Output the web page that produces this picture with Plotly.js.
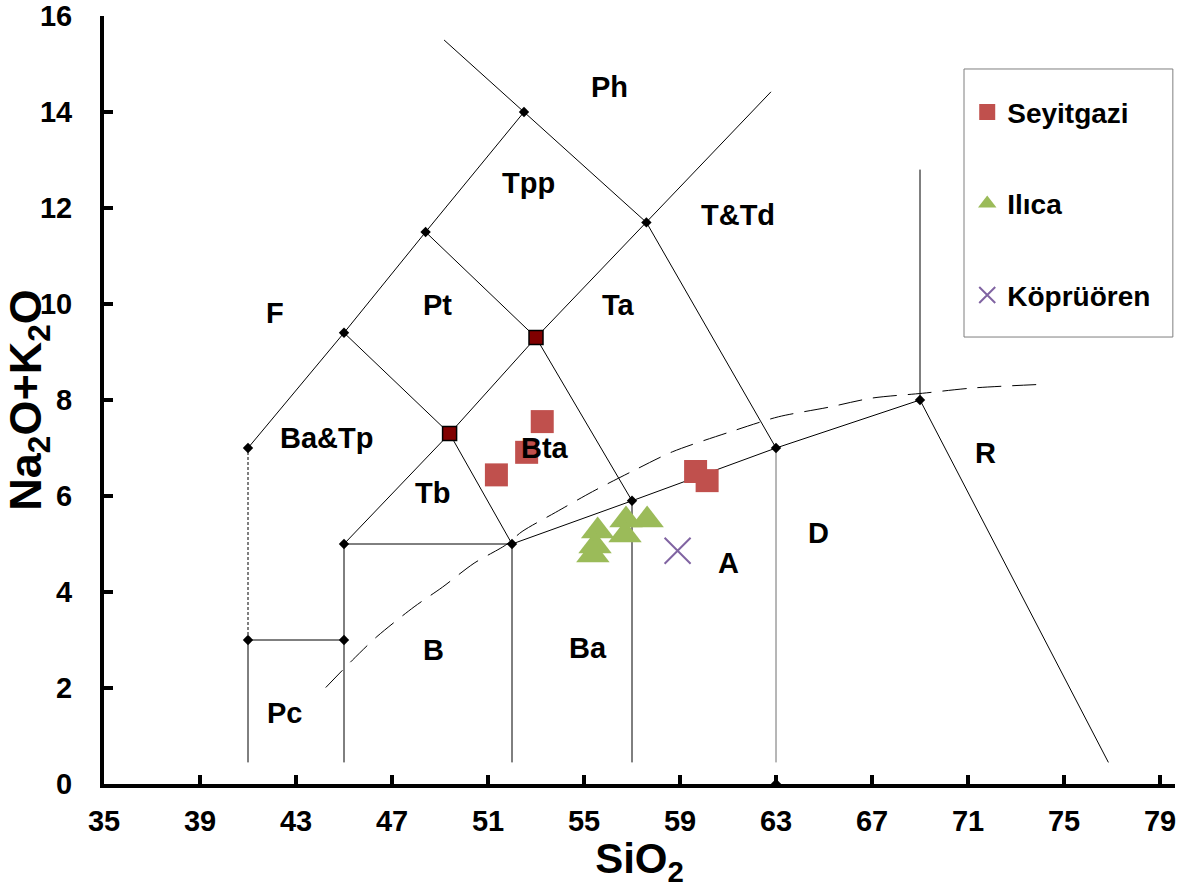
<!DOCTYPE html>
<html><head><meta charset="utf-8">
<script src="https://cdn.plot.ly/plotly-3.0.1.min.js"></script>
<style>html,body{margin:0;padding:0;background:#fff;} #chart{width:1197px;height:888px;}</style>
</head><body><div id="chart"></div>
<script>
// ---- sample data (SiO2 wt%, Na2O+K2O wt%) ----
const seyitgaziSiO2 = [53.26, 52.61, 51.35, 59.65, 60.13];
const seyitgaziAlk  = [7.55, 6.91, 6.44, 6.51, 6.32];
const ilicaSiO2 = [55.57, 55.46, 55.37, 56.75, 56.71, 57.63];
const ilicaAlk  = [5.27, 4.96, 4.77, 5.50, 5.19, 5.50];
const kopruorenSiO2 = [58.9];
const kopruorenAlk  = [4.86];

// ---- TAS field boundaries (polylines) ----
const boundaryX = [
  [41, 41], [41, 45], [45, 45], [45, 52], [52, 52], [57, 57],
  [52, 57, 63, 69], [69, 69], [69, 76.85],
  [41, 45, 48.4, 52.5, 57.6, 63], [52.5, 49.17],
  [45, 49.4, 52], [48.4, 53, 57], [45, 49.4, 53, 57.6, 62.79]
];
const boundaryY = [
  [0.45, 3], [3, 3], [0.45, 5], [5, 5], [0.45, 5], [0.45, 5.9],
  [5, 5.9, 7, 8], [8, 12.8], [8, 0.45],
  [7, 9.4, 11.5, 14, 11.7, 7], [14, 15.5],
  [9.4, 7.3, 5], [11.5, 9.3, 5.9], [5, 7.3, 9.3, 11.7, 14.42]
];
const greyLineX = [63, 63];
const greyLineY = [0.45, 7];
const dottedLineX = [41, 41];
const dottedLineY = [3, 7];
const vertexX = [41, 41, 45, 45, 45, 48.4, 52.5, 57.6, 52, 57, 63, 69, 63];
const vertexY = [7, 3, 3, 5, 9.4, 11.5, 14, 11.7, 5, 5.9, 7, 8, 0];
const keyVertexX = [49.4, 53];
const keyVertexY = [7.3, 9.3];
// alkaline / subalkaline divide (dashed curve)
const alkCurveX = [44.24, 45.35, 46.37, 47.92, 49.1, 50.42, 51.74, 52.42, 53.82, 55.35, 57.15, 58.68, 61.33, 63.1, 65.2, 67.0, 69.1, 71.2, 74.25];
const alkCurveY = [2.01, 2.58, 3.07, 3.69, 4.1, 4.6, 4.98, 5.26, 5.66, 6.09, 6.55, 6.92, 7.375, 7.65, 7.85, 8.04, 8.14, 8.25, 8.33];

// ---- field names ----
const fieldNames = ['Ph', 'Tpp', 'T&Td', 'F', 'Pt', 'Ta', 'Ba&Tp', 'Bta', 'Tb', 'R', 'D', 'A', 'B', 'Ba', 'Pc'];
const fieldX = [56.08, 52.67, 61.42, 42.12, 48.88, 56.42, 44.29, 53.37, 48.67, 71.71, 64.75, 61.0, 48.71, 55.17, 42.54];
const fieldY = [14.52, 12.52, 11.85, 9.81, 9.98, 9.98, 7.21, 7.0, 6.06, 6.9, 5.23, 4.6, 2.79, 2.83, 1.48];

const xTicks = [35, 39, 43, 47, 51, 55, 59, 63, 67, 71, 75, 79];
const yTicks = [0, 2, 4, 6, 8, 10, 12, 14, 16];

const FONT = 'Arial, "Liberation Sans", sans-serif';
const traces = [];
boundaryX.forEach((bx, i) => {
  traces.push({x: bx, y: boundaryY[i], mode: 'lines', type: 'scatter', showlegend: false, hoverinfo: 'skip',
    line: {color: '#000', width: 1}});
});
traces.push({x: greyLineX, y: greyLineY, mode: 'lines', type: 'scatter', showlegend: false, hoverinfo: 'skip',
  line: {color: '#6e6e6e', width: 1}});
traces.push({x: dottedLineX, y: dottedLineY, mode: 'lines', type: 'scatter', showlegend: false, hoverinfo: 'skip',
  line: {color: '#000', width: 1, dash: '3px,2px'}});
traces.push({x: alkCurveX, y: alkCurveY, mode: 'lines', type: 'scatter', showlegend: false, hoverinfo: 'skip',
  line: {color: '#000', width: 1, dash: '24px,11px', shape: 'spline', smoothing: 0.8}});
traces.push({x: vertexX, y: vertexY, mode: 'markers', type: 'scatter', showlegend: false, hoverinfo: 'skip',
  marker: {symbol: 'diamond', size: 8, color: '#000'}});
traces.push({x: keyVertexX, y: keyVertexY, mode: 'markers', type: 'scatter', showlegend: false, hoverinfo: 'skip',
  marker: {symbol: 'square', size: 14, color: '#800000', line: {color: '#000', width: 1.5}}});

traces.push({x: seyitgaziSiO2, y: seyitgaziAlk, name: 'Seyitgazi', mode: 'markers', type: 'scatter', legendgroup: 'a',
  marker: {symbol: 'square', size: 23, color: '#C0504D'}});
traces.push({x: ilicaSiO2, y: ilicaAlk, name: 'Ilıca', mode: 'markers', type: 'scatter', legendgroup: 'b',
  marker: {symbol: 'triangle-up', size: 29, color: '#9BBB59'}});
traces.push({x: kopruorenSiO2, y: kopruorenAlk, name: 'Köprüören', mode: 'markers', type: 'scatter', legendgroup: 'c',
  marker: {symbol: 'x-thin', size: 26, color: '#8064A2', line: {color: '#8064A2', width: 2}}});

const annotations = fieldNames.map((n, i) => ({
  x: fieldX[i], y: fieldY[i], xref: 'x', yref: 'y', text: n, showarrow: false,
  font: {family: FONT, size: 29, color: '#000', weight: 'bold'}
}));

const layout = {
  width: 1197, height: 888,
  margin: {l: 104, r: 22, t: 16, b: 104},
  paper_bgcolor: '#fff', plot_bgcolor: '#fff',
  showlegend: true,
  legend: {x: 0.806, y: 0.907, xanchor: 'left', yanchor: 'top', bgcolor: 'rgba(0,0,0,0)', borderwidth: 0,
    tracegroupgap: 52, font: {family: FONT, size: 28, color: '#000', weight: 'bold'}},
  xaxis: {range: [35, 79.625], tickmode: 'array', tickvals: xTicks, ticktext: xTicks.map(String),
    showgrid: false, zeroline: false, showline: true, linecolor: '#000', linewidth: 4,
    ticks: 'inside', ticklen: 9, tickwidth: 4, tickcolor: '#000', ticklabelstandoff: 8,
    tickfont: {family: FONT, size: 29, color: '#000', weight: 'bold'},
    title: {text: 'SiO<sub>2</sub>', standoff: 2, font: {family: FONT, size: 42, color: '#000', weight: 'bold'}}},
  yaxis: {range: [0, 16], tickmode: 'array', tickvals: yTicks, ticktext: yTicks.map(String),
    showgrid: false, zeroline: false, showline: true, linecolor: '#000', linewidth: 4,
    ticks: 'inside', ticklen: 9, tickwidth: 4, tickcolor: '#000', ticklabelstandoff: 22,
    tickfont: {family: FONT, size: 29, color: '#000', weight: 'bold'},
    title: {text: 'Na<sub>2</sub>O+K<sub>2</sub>O', standoff: 0, font: {family: FONT, size: 45, color: '#000', weight: 'bold'}}},
  shapes: [{type: 'rect', xref: 'paper', yref: 'paper', x0: 0.803, x1: 0.998, y0: 0.582, y1: 0.931,
    line: {color: '#7f7f7f', width: 1}, fillcolor: 'rgba(0,0,0,0)', layer: 'below'}],
  annotations: annotations
};

Plotly.newPlot('chart', traces, layout, {displayModeBar: false, staticPlot: true});
</script>
</body></html>
